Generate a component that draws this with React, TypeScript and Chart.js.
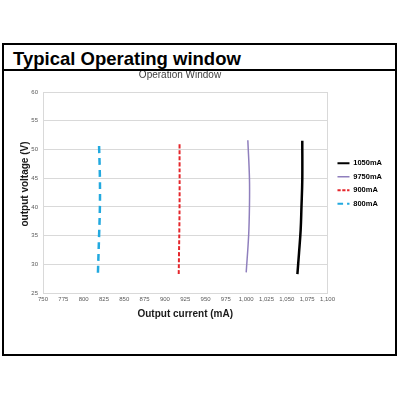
import React, { useEffect, useRef } from "react";
import { Chart, registerables } from "chart.js";

Chart.register(...registerables);

const FONT = "'Liberation Sans', Arial, sans-serif";

const pageTitle = "Typical Operating window";
const chartTitle = "Operation Window";
const xTitle = "Output current (mA)";
const yTitle = "output voltage (V)";

const seriesNames = ["1050mA", "9750mA", "900mA", "800mA"];

const current1050 = [1069, 1069, 1068, 1067, 1065, 1063];
const voltage1050 = [51.5, 44.7, 40, 36, 32, 28.3];

const current975 = [1002, 1004, 1004, 1003, 1000];
const voltage975 = [51.6, 45, 40, 35, 28.6];

const current900 = [918, 918, 917];
const voltage900 = [50.9, 40, 28.3];

const current800 = [819, 820, 820, 819, 817.5];
const voltage800 = [50.6, 45, 40, 35, 28.1];

const xMin = 750;
const xMax = 1100;
const xStep = 25;
const yMin = 25;
const yMax = 60;
const yStep = 5;

const pts = (xs: number[], ys: number[]) => xs.map((x, i) => ({ x, y: ys[i] }));

const LEGEND_DX = 4;
const LEGEND_DY = -9;

const decor = {
  id: "decor",
  afterLayout(chart: any) {
    const l = chart.legend;
    if (l) {
      l.left += LEGEND_DX;
      l.right += LEGEND_DX;
      l.top += LEGEND_DY;
      l.bottom += LEGEND_DY;
    }
  },
  beforeDatasetsDraw(chart: any) {
    const { ctx, chartArea: a } = chart;
    ctx.save();
    ctx.strokeStyle = "#d9d9d9";
    ctx.lineWidth = 1;
    ctx.strokeRect(Math.round(a.left) + 0.5, Math.round(a.top) + 0.5, Math.round(a.right - a.left), Math.round(a.bottom - a.top));
    ctx.restore();
  },
  afterDraw(chart: any) {
    const { ctx } = chart;
    ctx.save();
    ctx.fillStyle = "#404040";
    ctx.font = `10px ${FONT}`;
    ctx.textAlign = "center";
    ctx.textBaseline = "middle";
    ctx.fillText(chartTitle, 176, 4.5);
    ctx.translate(21, 113);
    ctx.rotate(-Math.PI / 2);
    ctx.fillStyle = "#1a1a1a";
    ctx.font = `bold 10px ${FONT}`;
    ctx.fillText(yTitle, 0, 0);
    ctx.restore();
  },
};

function OperatingChart() {
  const ref = useRef<HTMLCanvasElement>(null);
  useEffect(() => {
    if (!ref.current) return;
    const chart = new Chart(ref.current, {
      type: "line",
      data: {
        datasets: [
          {
            label: seriesNames[0],
            data: pts(current1050, voltage1050),
            borderColor: "#000000",
            backgroundColor: "#000000",
            borderWidth: 2.5,
            tension: 0.4,
            pointRadius: 0,
          },
          {
            label: seriesNames[1],
            data: pts(current975, voltage975),
            borderColor: "#8f7fbd",
            backgroundColor: "#8f7fbd",
            borderWidth: 1.5,
            tension: 0.4,
            pointRadius: 0,
          },
          {
            label: seriesNames[2],
            data: pts(current900, voltage900),
            borderColor: "#e5262b",
            backgroundColor: "#e5262b",
            borderWidth: 2,
            borderDash: [4, 2],
            tension: 0.4,
            pointRadius: 0,
          },
          {
            label: seriesNames[3],
            data: pts(current800, voltage800),
            borderColor: "#22a9df",
            backgroundColor: "#22a9df",
            borderWidth: 2.5,
            borderDash: [7, 5],
            tension: 0.4,
            pointRadius: 0,
          },
        ],
      },
      plugins: [decor],
      options: {
        animation: false,
        responsive: false,
        devicePixelRatio: 1,
        layout: { padding: { top: 21, left: 13, bottom: 34, right: 7 } },
        plugins: {
          title: { display: false },
          tooltip: { enabled: false },
          legend: {
            display: true,
            position: "right",
            fullSize: false,
            align: "center",
            labels: {
              usePointStyle: true,
              pointStyle: "line",
              pointStyleWidth: 12,
              padding: 6,
              color: "#000",
              font: { size: 7.5, weight: "bold", family: FONT },
              generateLabels: (c: any) => {
                const items = Chart.defaults.plugins.legend.labels.generateLabels(c);
                return items.map((it: any) => {
                  const ds: any = c.data.datasets[it.datasetIndex];
                  return {
                    ...it,
                    lineDash: ds.borderDash ? ds.borderDash.map((d: number) => d * 0.8) : [],
                    lineWidth: Math.min(ds.borderWidth, 2),
                    strokeStyle: ds.borderColor,
                    fillStyle: ds.borderColor,
                  };
                });
              },
            },
          },
        },
        scales: {
          x: {
            type: "linear",
            min: xMin,
            max: xMax,
            afterFit: (s: any) => {
              s.height = 27;
            },
            ticks: {
              stepSize: xStep,
              autoSkip: false,
              maxRotation: 0,
              minRotation: 0,
              padding: 3,
              color: "#595959",
              font: { size: 6, family: FONT },
              callback: (v: any) => Number(v).toLocaleString("en-US"),
            },
            grid: { display: false, drawTicks: false },
            border: { display: true, color: "#bfbfbf" },
            title: {
              display: true,
              text: xTitle,
              color: "#1a1a1a",
              padding: 0,
              font: { size: 10, weight: "bold", family: FONT },
            },
          },
          y: {
            type: "linear",
            min: yMin,
            max: yMax,
            afterFit: (s: any) => {
              s.width = 26;
            },
            ticks: {
              stepSize: yStep,
              padding: 5,
              color: "#595959",
              font: { size: 6, family: FONT },
            },
            grid: { color: "#d9d9d9", drawTicks: false },
            border: { display: true, color: "#a6a6a6" },
          },
        },
      },
    } as any);
    return () => chart.destroy();
  }, []);
  return <canvas ref={ref} width={391} height={283} style={{ display: "block", width: 391, height: 283 }} />;
}

export default function App() {
  return (
    <div style={{ position: "absolute", left: 0, top: 0, width: 400, height: 400, background: "#fff", fontFamily: FONT }}>
      <div
        style={{
          position: "absolute",
          left: 2,
          top: 43,
          width: 395,
          height: 313,
          boxSizing: "border-box",
          border: "2px solid #000",
        }}
      >
        <div
          style={{
            height: 24,
            borderBottom: "2px solid #000",
            paddingLeft: 9,
            fontSize: 18.5,
            fontWeight: "bold",
            lineHeight: "27px",
            color: "#000",
            whiteSpace: "nowrap",
          }}
        >
          {pageTitle}
        </div>
        <OperatingChart />
      </div>
    </div>
  );
}
